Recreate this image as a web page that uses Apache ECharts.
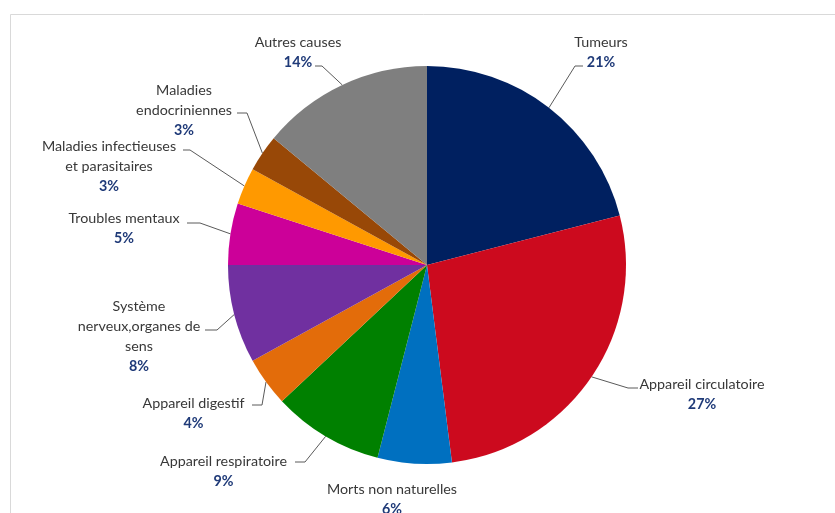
<!DOCTYPE html>
<html>
<head>
<meta charset="utf-8">
<script src="https://cdn.jsdelivr.net/npm/echarts@6/dist/echarts.min.js"></script>
<style>
html,body{margin:0;padding:0;background:#fff;}
#main{width:835px;height:513px;}
</style>
</head>
<body>
<div id="main"></div>
<script>
// Data
var categories = ['Tumeurs', 'Appareil circulatoire', 'Morts non naturelles', 'Appareil respiratoire',
  'Appareil digestif', 'Système\nnerveux,organes de\nsens', 'Troubles mentaux',
  'Maladies infectieuses\net parasitaires', 'Maladies\nendocriniennes', 'Autres causes'];
var values = [21, 27, 6, 9, 4, 8, 5, 3, 3, 14];
var colors = ['#002060', '#CC0A1E', '#0070C0', '#008000', '#E36C0A', '#7030A0', '#CC0099', '#FF9900', '#984807', '#7F7F7F'];

// Label layout: [centerX, topY, bendX, bendY, endX] (null bend = no leader line)
var labelLayouts = [
  [601, 32, 575, 66, 583],
  [702, 374, 628, 388, 638],
  [392, 479, null, null, null],
  [223.5, 451, 305, 462, 295],
  [193.5, 393, 262, 405, 252],
  [139, 296, 217, 330, 205],
  [124, 208, 200, 223, 187],
  [109, 136, 190, 150, 183],
  [184, 80, 247, 113, 237],
  [298, 32, 322, 66, 315]
];

var chart = echarts.init(document.getElementById('main'), null, {renderer: 'canvas'});
var data = categories.map(function (c, i) {
  return {name: c, value: values[i], itemStyle: {color: colors[i]}};
});
var FONT = 'Lato';
chart.setOption({
  backgroundColor: '#ffffff',
  animation: false,
  graphic: [{
    type: 'rect',
    shape: {x: 10.5, y: 14.5, width: 900, height: 700},
    style: {fill: 'none', stroke: '#d9d9d9', lineWidth: 1},
    silent: true
  }],
  series: [{
    type: 'pie',
    center: [427, 265],
    radius: [0, 199],
    startAngle: 90,
    clockwise: true,
    data: data,
    itemStyle: {borderWidth: 0},
    emphasis: {disabled: true},
    label: {
      show: true,
      position: 'outside',
      formatter: function (p) {
        var lines = p.name.split('\n');
        return lines.map(function (l) { return '{n|' + l + '}'; }).join('\n') + '\n{p|' + p.value + '%}';
      },
      rich: {
        n: {fontFamily: FONT, fontSize: 14.3, color: '#383838', lineHeight: 20, align: 'center'},
        p: {fontFamily: FONT, fontSize: 14.3, fontWeight: 'bold', color: '#1F3A78', lineHeight: 20, align: 'center'}
      }
    },
    labelLine: {show: true, lineStyle: {color: '#5a5a5a', width: 1}},
    labelLayout: function (params) {
      var L = labelLayouts[params.dataIndex];
      var res = {x: L[0], y: L[1], align: 'center', verticalAlign: 'top'};
      var start = params.labelLinePoints ? params.labelLinePoints[0] : null;
      if (L[2] === null || !start) {
        res.labelLinePoints = [[0, 0], [0, 0], [0, 0]];
      } else {
        res.labelLinePoints = [start, [L[2], L[3]], [L[4], L[3]]];
      }
      return res;
    }
  }]
});
</script>
</body>
</html>
